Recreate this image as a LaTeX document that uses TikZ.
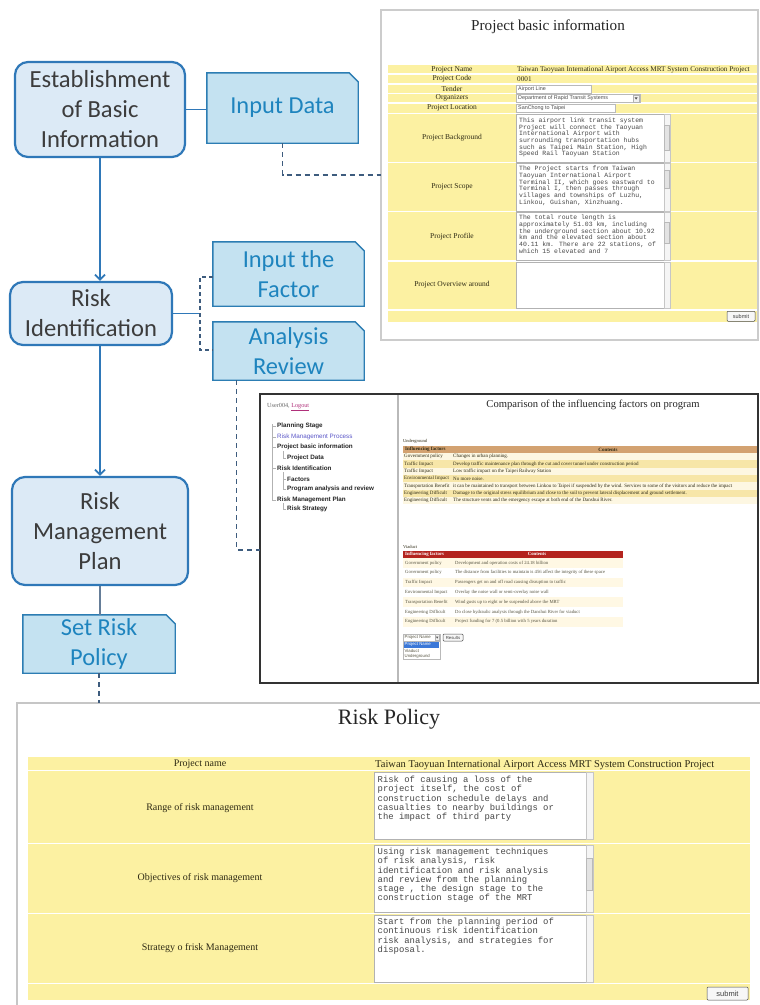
\documentclass[tikz,border=0pt]{standalone}
\usepackage{fontspec}
\setmainfont{Liberation Serif}
\newfontfamily\flowfont{Carlito}
\newfontfamily\monofont{Liberation Mono}
\newfontfamily\uifont{Liberation Sans}
\usetikzlibrary{arrows.meta,backgrounds}

\definecolor{flowline}{HTML}{2F78B8}
\definecolor{flowfill}{HTML}{DCEAF6}
\definecolor{flowtext}{HTML}{3C3C3C}
\definecolor{snipline}{HTML}{2C7DB3}
\definecolor{snipfill}{HTML}{C4E2F1}
\definecolor{sniptextc}{HTML}{1E84BE}
\definecolor{dashc}{HTML}{3E5C7E}
\definecolor{formyellow}{HTML}{FCF1A2}
\definecolor{formtext}{HTML}{2E2A14}
\definecolor{hdrtan}{HTML}{D3A271}
\definecolor{rowpale}{HTML}{FDF7E2}
\definecolor{rowyel}{HTML}{F7E6A8}
\definecolor{rowcream}{HTML}{FFF8E4}
\definecolor{hdrred}{HTML}{B4241E}
\definecolor{linkblue}{HTML}{5B57C8}
\definecolor{linkpink}{HTML}{B0307A}
\definecolor{selblue}{HTML}{3B78D8}

\newcommand\fsz[2]{\fontsize{#1}{#2}\selectfont}

\tikzset{
  flowbox/.style={draw=flowline, line width=2.2pt, fill=flowfill, rounded corners=13pt,
    align=center, inner sep=0pt, text=flowtext, font=\flowfont\fsz{24.6}{30}},
  sniptext/.style={align=center, inner sep=0pt, text=sniptextc, font=\flowfont\fsz{24.4}{29.5}},
  snipshape/.style={draw=snipline, line width=1.4pt, fill=snipfill},
  arrowcon/.style={draw=flowline, line width=1.8pt, -{Straight Barb[length=5pt,width=10pt]}},
  solidcon/.style={draw=flowline, line width=1.8pt},
  greycon/.style={draw=dashc!80, line width=1.5pt},
  dashcon/.style={draw=dashc, line width=1.3pt, dash pattern=on 5pt off 4pt},
  panelbox/.style={fill=white, inner sep=0pt, outer sep=0pt},
  formlabel/.style={inner sep=0pt, text=formtext, font=\fsz{7.5}{9}},
  formval/.style={inner sep=0pt, anchor=west, text=formtext, font=\fsz{7.2}{9}},
  fieldbox/.style={draw=gray!55, line width=0.4pt, fill=white},
  fieldtext/.style={inner sep=0pt, anchor=west, text=black!70, font=\uifont\fsz{5.4}{6}},
  tabox/.style={draw=gray!60, line width=0.5pt, fill=white},
  scrolltrack/.style={draw=gray!45, line width=0.4pt, fill=gray!8},
  thumb/.style={draw=gray!55, line width=0.3pt, fill=gray!22},
  tatext/.style={anchor=north west, align=left, inner sep=0pt, text=black!72,
    font=\monofont\fsz{6.45}{6.7}},
  rptext/.style={anchor=north west, align=left, inner sep=0pt, text=black!72,
    font=\monofont\fsz{8.9}{9.2}},
  btn/.style={draw=gray!60!black, line width=0.5pt, fill=gray!6, rounded corners=1pt,
    inner sep=0pt, text=black!75},
  navitem/.style={anchor=west, inner sep=0pt, text=black!85, font=\uifont\bfseries\fsz{6.3}{7}},
  cellug/.style={anchor=west, inner sep=0pt, text=formtext, font=\fsz{5}{6}},
  cellvd/.style={anchor=west, inner sep=0pt, text=formtext!80, font=\fsz{4.7}{6}},
}

% text box with a scroll bar on its right side
\newcommand\formarea[5]{%
  \draw[tabox] (#1,#2) rectangle (#3,#4);
  \draw[scrolltrack] ({#3-#5},#2) rectangle (#3,#4);
}

\begin{document}
\begin{tikzpicture}[x=1pt,y=-1pt]
\useasboundingbox (0,0) rectangle (760,1005);
\begin{pgfonlayer}{background}
  \fill[white] (0,0) rectangle (760,1005);
\end{pgfonlayer}

% ---------------- process flow ----------------
\node[flowbox, minimum width=170pt, minimum height=95pt] (est) at (100,109.5)
  {Establishment\\of Basic\\Information};
\node[flowbox, minimum width=162pt, minimum height=63pt] (riskid) at (91,313.5)
  {Risk\\Identification};
\node[flowbox, minimum width=176pt, minimum height=108pt] (rmp) at (100,531)
  {Risk\\Management\\Plan};

\node[sniptext, minimum width=151pt, minimum height=70pt] (inputdata) at (282.5,108) {Input Data};
\node[sniptext, minimum width=151pt, minimum height=64pt] (factor) at (288.5,274) {Input the\\Factor};
\node[sniptext, minimum width=151pt, minimum height=58pt] (analysis) at (288.5,351) {Analysis\\Review};
\node[sniptext, minimum width=152pt, minimum height=58pt] (setpolicy) at (99,644) {Set Risk\\Policy};

\begin{pgfonlayer}{background}
  \foreach \n in {inputdata,factor,analysis,setpolicy}
    \path[snipshape] (\n.south west) -- (\n.north west) -- ([xshift=-9pt]\n.north east)
      -- ([yshift=-9pt]\n.north east) -- (\n.south east) -- cycle;
\end{pgfonlayer}

% ---------------- screen: project basic information ----------------
\node[panelbox, draw=gray!40, line width=1.6pt, minimum width=377pt, minimum height=330pt,
  anchor=north west] (infopanel) at (381,10) {};
\node[inner sep=0pt, text=black!85, font=\fsz{15.2}{18}] (infotitle) at (548,27)
  {Project basic information};
\fill[formyellow] (388,65) rectangle (757,322);
\foreach \y in {74,84,93.5,103,113.5,162.5,211.5,261,310}
  \draw[white, line width=1.1pt] (388,\y) -- (757,\y);
\foreach \y/\t [count=\k] in {69.5/Project Name, 79/Project Code, 88.7/Tender,
    98.2/Organizers, 108.2/Project Location, 138/Project Background,
    187/Project Scope, 237/Project Profile, 285/Project Overview around}
  \node[formlabel] (infolabel\k) at (452,\y) {\t};
\node[formval] (infoname) at (517,69.5)
  {Taiwan Taoyuan International Airport Access MRT System Construction Project};
\node[formval] (infocode) at (517,79) {0001};
\draw[fieldbox] (516,84.8) rectangle (591,93);
\node[fieldtext] (tender) at (518,89) {Airport Line};
\draw[fieldbox] (516,94) rectangle (640,102.6);
\node[fieldtext] (organizer) at (518,98.3) {Department of Rapid Transit Systems};
\draw[gray!60, fill=gray!12, line width=0.3pt] (633,95) rectangle (639.3,101.8);
\fill[black!70] (634.6,97.3) -- (637.7,97.3) -- (636.15,99.6) -- cycle;
\draw[fieldbox] (516,103.8) rectangle (615,112.2);
\node[fieldtext] (location) at (518,108) {SanChong to Taipei};

\formarea{516}{114.5}{670}{162}{6}
\draw[thumb] (664.6,125) rectangle (669.4,150);
\node[tatext] (bgtext) at (519,117.5) {This airport link transit system\\Project will connect the Taoyuan\\International Airport with\\surrounding transportation hubs\\such as Taipei Main Station, High\\Speed Rail Taoyuan Station};
\formarea{516}{163.5}{670}{211}{6}
\draw[thumb] (664.6,170) rectangle (669.4,188);
\node[tatext] (scopetext) at (519,166) {The Project starts from Taiwan\\Taoyuan International Airport\\Terminal II, which goes eastward to\\Terminal I, then passes through\\villages and townships of Luzhu,\\Linkou, Guishan, Xinzhuang.};
\formarea{516}{212.5}{670}{260}{6}
\draw[thumb] (664.6,222) rectangle (669.4,243);
\node[tatext] (profiletext) at (519,215) {The total route length is\\approximately 51.03 km, including\\the underground section about 10.92\\km and the elevated section about\\40.11 km. There are 22 stations, of\\which 15 elevated and 7};
\formarea{516}{262}{670}{308.5}{6}
\node[btn, minimum width=28pt, minimum height=10pt, font=\uifont\fsz{5.5}{6}] (infosubmit)
  at (741,316.3) {submit};

% ---------------- screen: comparison of influencing factors ----------------
\node[panelbox, draw=black!80, line width=2pt, minimum width=498pt, minimum height=289pt,
  anchor=north west] (cmppanel) at (260,394) {};
\draw[gray!55, line width=1.6pt] (398,395) -- (398,682);

\node[anchor=west, inner sep=0pt, font=\fsz{6.2}{7}] (user) at (267,407)
  {\textcolor{black!60}{User004,} \textcolor{linkpink}{\underline{Logout}}};
\draw[gray!60, line width=0.5pt] (272,424) -- (272,500);
\foreach \y in {426,437,447,468,500} \draw[gray!60, line width=0.5pt] (272,\y) -- (276,\y);
\draw[gray!60, line width=0.5pt] (283,451) -- (283,458) -- (286,458);
\draw[gray!60, line width=0.5pt] (283,472) -- (283,489) -- (286,489) (283,479) -- (286,479);
\draw[gray!60, line width=0.5pt] (283,503) -- (283,509) -- (286,509);
\node[navitem] (nav1) at (277,426) {Planning Stage};
\node[navitem, font=\uifont\fsz{6.3}{7}, text=linkblue] (nav2) at (277,437) {Risk Management Process};
\node[navitem] (nav3) at (277,447) {Project basic information};
\node[navitem] (nav4) at (287,458) {Project Data};
\node[navitem] (nav5) at (277,468) {Risk Identification};
\node[navitem] (nav6) at (287,479) {Factors};
\node[navitem] (nav7) at (287,489) {Program analysis and review};
\node[navitem] (nav8) at (277,500) {Risk Management Plan};
\node[navitem] (nav9) at (287,509) {Risk Strategy};

\node[inner sep=0pt, text=black!85, font=\fsz{10.6}{12}] (cmptitle) at (593,405)
  {Comparison of the influencing factors on program};

% underground table
\node[cellug, font=\fsz{4.5}{5}] (ugcap) at (403,441.5) {Underground};
\fill[hdrtan] (403,446) rectangle (757,453);
\node[cellug, font=\bfseries\fsz{5}{6}] (ughdr1) at (405,449.5) {Influencing factors};
\node[inner sep=0pt, text=formtext, font=\bfseries\fsz{5}{6}] (ughdr2) at (608,449.5) {Contents};
\foreach \c/\a/\b [count=\k] in {
  rowpale/Government policy/Changes in urban planning.,
  rowyel/Traffic Impact/Develop traffic maintenance plan through the cut and cover tunnel under construction period,
  rowpale/Traffic Impact/Low traffic impact on the Taipei Railway Station,
  rowyel/Environmental Impact/No more noise.,
  rowpale/Transportation Benefit/it can be maintained to transport between Linkou to Taipei if suspended by the wind. Services to some of the visitors and reduce the impact,
  rowyel/Engineering Difficult/Damage to the original stress equilibrium and close to the soil to prevent lateral displacement and ground settlement.,
  rowpale/Engineering Difficult/The structure vents and the emergency escape at both end of the Danshui River.}
{
  \fill[\c] (403,{453+7.3*(\k-1)}) rectangle (757,{453+7.3*\k});
  \node[cellug] (ugf\k) at (404,{456.65+7.3*(\k-1)}) {\a};
  \node[cellug] (ugc\k) at (453,{456.65+7.3*(\k-1)}) {\b};
}

% viaduct table
\node[cellug, font=\fsz{4.5}{5}] (vdcap) at (403,546.5) {Viaduct};
\fill[hdrred] (403,550.5) rectangle (623,558);
\node[cellug, text=white, font=\bfseries\fsz{4.8}{6}] (vdhdr1) at (405,554.3) {Influencing factors};
\node[inner sep=0pt, text=white, font=\bfseries\fsz{4.8}{6}] (vdhdr2) at (537,554.3) {Contents};
\foreach \c/\a/\b [count=\k] in {
  rowcream/Government policy/Development and operation costs of 24.18 billion,
  white/Government policy/The distance from facilities to maintain is 456 affect the integrity of these space,
  rowcream/Traffic Impact/Passengers get on and off road causing disruption to traffic,
  white/Environmental Impact/Overlay the noise wall or semi-overlay noise wall,
  rowcream/Transportation Benefit/Wind gusts up to eight or be suspended above the MRT,
  white/Engineering Difficult/Do close hydraulic analysis through the Danshui River for viaduct,
  rowcream/Engineering Difficult/Project funding for 7 (0.5 billion with 5 years duration}
{
  \fill[\c] (403,{558+9.8*(\k-1)}) rectangle (623,{558+9.8*\k});
  \node[cellvd] (vdf\k) at (405,{562.9+9.8*(\k-1)}) {\a};
  \node[cellvd] (vdc\k) at (455,{562.9+9.8*(\k-1)}) {\b};
}

% project selector
\draw[fieldbox] (403,634) rectangle (440,641);
\node[cellvd, font=\uifont\fsz{4.3}{5}] (selname) at (404.5,637.5) {Project Name};
\draw[gray!60, fill=gray!12, line width=0.3pt] (435,634.6) rectangle (439.4,640.4);
\fill[black!70] (436,636.7) -- (438.4,636.7) -- (437.2,638.6) -- cycle;
\node[btn, minimum width=20pt, minimum height=7pt, font=\uifont\fsz{4.3}{5}] (results)
  at (453,637.5) {Results};
\draw[fieldbox] (403,641.5) rectangle (440,659.5);
\fill[selblue] (403.6,642) rectangle (439.4,647.6);
\node[cellvd, text=white, font=\uifont\fsz{4.3}{5}] (opt1) at (404.5,644.8) {Project Name};
\node[cellvd, font=\uifont\fsz{4.3}{5}] (opt2) at (404.5,651) {Viaduct};
\node[cellvd, font=\uifont\fsz{4.3}{5}] (opt3) at (404.5,656.3) {Underground};

% ---------------- screen: risk policy ----------------
\node[panelbox, draw=gray!45, line width=1.2pt, minimum width=760pt, minimum height=320pt,
  anchor=north west] (riskpanel) at (17,703) {};
\node[inner sep=0pt, text=black!85, font=\fsz{22}{26}] (rptitle) at (389,719) {Risk Policy};
\fill[formyellow] (28,757) rectangle (750,1000);
\foreach \y in {770.5,843.5,913.5,983.5}
  \draw[white, line width=1.4pt] (28,\y) -- (750,\y);
\foreach \y/\t [count=\k] in {764.5/Project name, 808/Range of risk management,
    878/Objectives of risk management, 948/Strategy o frisk Management}
  \node[formlabel, font=\fsz{10}{12}] (rplabel\k) at (200,\y) {\t};
\node[formval, font=\fsz{10.5}{12}] (rpname) at (375,764.5)
  {Taiwan Taoyuan International Airport Access MRT System Construction Project};
\formarea{374}{772.5}{593}{839.5}{7}
\node[rptext] (rangetext) at (377.5,776) {Risk of causing a loss of the\\project itself, the cost of\\construction schedule delays and\\casualties to nearby buildings or\\the impact of third party};
\formarea{374}{845}{593}{912.5}{7}
\draw[thumb] (586.6,858) rectangle (592.4,890);
\node[rptext] (objtext) at (377.5,848) {Using risk management techniques\\of risk analysis, risk\\identification and risk analysis\\and review from the planning\\stage , the design stage to the\\construction stage of the MRT};
\formarea{374}{915}{593}{982}{7}
\node[rptext] (strattext) at (377.5,918) {Start from the planning period of\\continuous risk identification\\risk analysis, and strategies for\\disposal.};
\node[btn, minimum width=41pt, minimum height=13pt, font=\uifont\fsz{7.5}{8}] (rpsubmit)
  at (727.5,993.5) {submit};

% ---------------- connectors ----------------
\draw[arrowcon] (est.south) -- (est.south |- riskid.north);
\draw[arrowcon] (est.south |- riskid.south) -- (rmp.north);
\draw[greycon] (rmp.south) -- (rmp.south |- setpolicy.north);
\draw[solidcon] (est.east) -- (est.east -| inputdata.west);

\coordinate (brk) at (200,313.5);
\coordinate (brktop) at (200,277);
\coordinate (brkbot) at (200,350);
\draw[solidcon] (riskid.east) -- (brk);
\draw[dashcon, dash pattern=on 4pt off 3pt] (brktop -| factor.west) -- (brktop) -- (brkbot) -- (brkbot -| analysis.west);

\draw[dashcon] (inputdata.south) |- (infopanel.west);
\draw[dashcon] ([xshift=24pt]analysis.south west) |- ([yshift=-11.5pt]cmppanel.west);
\draw[dashcon] (setpolicy.south) -- (setpolicy.south |- riskpanel.north);
\end{tikzpicture}
\end{document}
